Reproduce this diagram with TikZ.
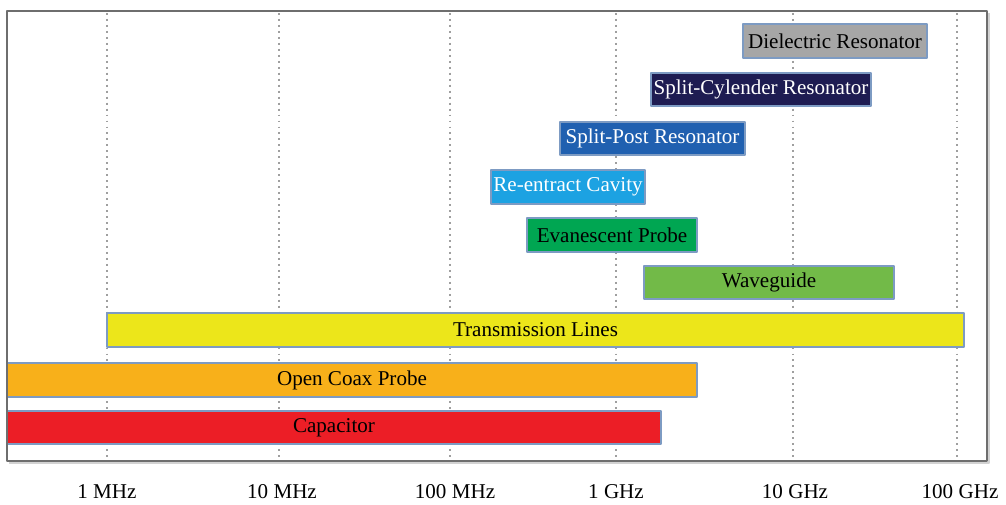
\documentclass[tikz,border=0pt]{standalone}
\usepackage{fontspec}
\setmainfont{Liberation Serif}
\usepackage{tikz}
\usepackage{xcolor}
\definecolor{barline}{RGB}{125,155,195}
\definecolor{framegray}{RGB}{110,110,110}
\definecolor{drgray}{RGB}{166,166,166}
\definecolor{scnavy}{RGB}{30,28,82}
\definecolor{spblue}{RGB}{32,96,176}
\definecolor{recyan}{RGB}{28,162,226}
\definecolor{evgreen}{RGB}{0,166,82}
\definecolor{wglime}{RGB}{114,186,72}
\definecolor{tlyellow}{RGB}{236,230,26}
\definecolor{coorange}{RGB}{248,176,26}
\definecolor{capred}{RGB}{236,30,38}

\begin{document}
\begin{tikzpicture}[x=0.02cm,y=-0.02cm,line join=round,
    font=\fontsize{12}{14}\selectfont,
    bar/.style={draw=barline,line width=0.6pt},
    gridline/.style={gray!75,line width=0.8pt,dash pattern=on 1.1pt off 2.3pt}]
  \useasboundingbox (0,0) rectangle (1006,504);
  \fill[white] (0,0) rectangle (1006,504);
  % decade grid
  \foreach \gx in {107,279,450,616,793,957}
    \draw[gridline] (\gx,13) -- (\gx,459);
  % frequency ranges
  \foreach \n/\xa/\xb/\ya/\yb/\c/\tc/\t in {
      dielec/743/927/24/58/drgray/black/Dielectric Resonator,
      splitcyl/651/871/73/106/scnavy/white/Split-Cylender Resonator,
      splitpost/560/745/122/155/spblue/white/Split-Post Resonator,
      reentr/491/645/170/204/recyan/white/Re-entract Cavity,
      evanes/527/697/218/252/evgreen/black/Evanescent Probe,
      waveg/644/894/266/299/wglime/black/Waveguide,
      trans/107/964/313/347/tlyellow/black/Transmission Lines,
      coax/7/697/363/397/coorange/black/Open Coax Probe,
      capac/7/661/411/444/capred/black/Capacitor}{
    \draw[bar,fill=\c] (\xa,\ya) rectangle (\xb,\yb);
    \node[text=\tc] (\n) at ({(\xa+\xb)/2},{(\ya+\yb)/2}) {\t};
  }
  % frame
  \draw[gray!35,line width=1pt] (9,463) -- (989,463) -- (989,13);
  \draw[framegray,line width=1.2pt] (7,11) rectangle (987,461);
  % axis labels
  \foreach \gx/\lab [count=\i] in {107/1 MHz,282/10 MHz,455/100 MHz,616/1 GHz,795/10 GHz,960/100 GHz}
    \node (tick\i) at (\gx,492) {\lab};
\end{tikzpicture}
\end{document}
